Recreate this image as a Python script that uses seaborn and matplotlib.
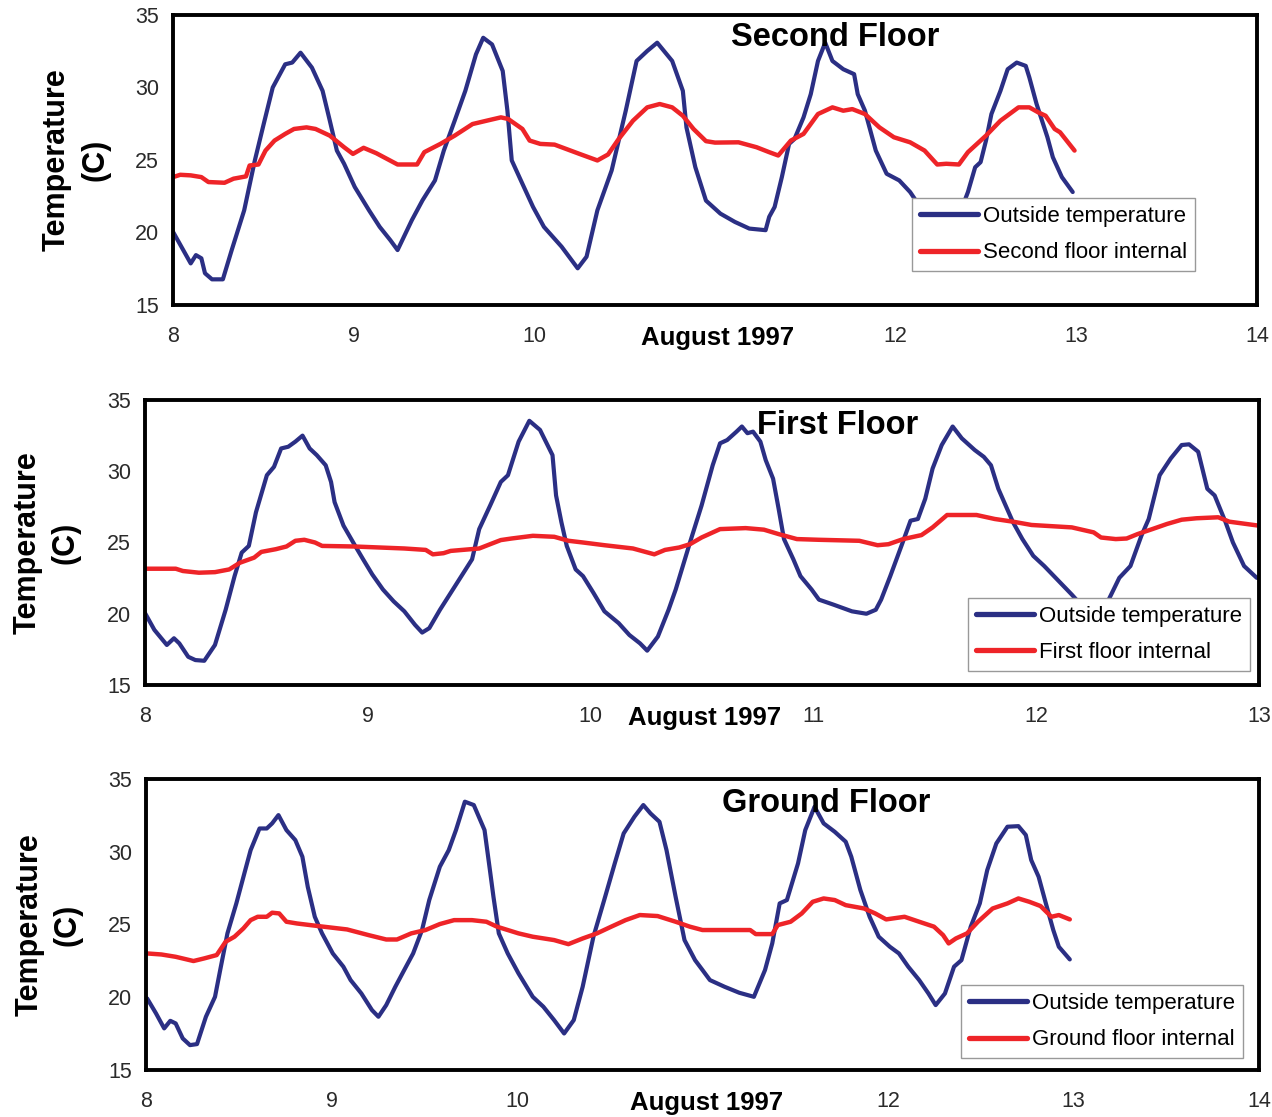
import pandas as pd
import matplotlib.pyplot as plt
import seaborn as sns

# ------------------ data (day of August 1997, deg C) ------------------
# Second floor panel
t_out_2 = [8.0, 8.098, 8.127, 8.157, 8.177, 8.216, 8.276, 8.325, 8.394, 8.453, 8.502, 8.552, 8.621, 8.66,
           8.706, 8.769, 8.828, 8.868, 8.907, 8.947, 9.006, 9.085, 9.144, 9.203, 9.243, 9.322, 9.381, 9.45,
           9.499, 9.559, 9.618, 9.677, 9.717, 9.766, 9.825, 9.851, 9.875, 9.934, 9.993, 10.053, 10.151,
           10.24, 10.289, 10.349, 10.428, 10.506, 10.566, 10.625, 10.68, 10.763, 10.822, 10.842, 10.891,
           10.95, 11.03, 11.11, 11.19, 11.28, 11.30, 11.33, 11.37, 11.41, 11.44, 11.49, 11.53, 11.57, 11.61,
           11.65, 11.71, 11.77, 11.79, 11.83, 11.89, 11.95, 12.02, 12.08, 12.15, 12.22, 12.28, 12.33, 12.40,
           12.44, 12.47, 12.50, 12.53, 12.58, 12.62, 12.67, 12.72, 12.74, 12.78, 12.84, 12.87, 12.92, 12.98]
out_2 = [20.05, 17.87, 18.44, 18.22, 17.19, 16.77, 16.77, 18.79, 21.53, 24.97, 27.48, 30.0, 31.6, 31.72,
         32.4, 31.37, 29.77, 27.71, 25.65, 24.74, 23.14, 21.53, 20.39, 19.47, 18.79, 20.85, 22.22, 23.59,
         25.65, 27.71, 29.77, 32.29, 33.43, 32.97, 31.14, 28.4, 24.97, 23.36, 21.76, 20.39, 19.02,
         17.53, 18.33, 21.53, 24.28, 28.4, 31.83, 32.52, 33.09, 31.83, 29.77, 27.25, 24.51,
         22.2, 21.3, 20.73, 20.27, 20.16, 21.08, 21.76, 23.82, 26.11, 26.45, 27.94, 29.54, 31.83, 33.09,
         31.83, 31.26, 30.92, 29.54, 28.4, 25.65, 24.05, 23.59, 22.79, 21.5, 20.3, 19.6, 20.5, 22.79,
         24.5, 24.85, 26.34, 28.17, 29.77, 31.26, 31.72, 31.49, 30.69, 28.86, 26.57, 25.19, 23.82, 22.79]
t_in_2 = [8.0, 8.04, 8.098, 8.157, 8.196, 8.285, 8.335, 8.404, 8.424, 8.473, 8.512, 8.562, 8.621, 8.67,
          8.739, 8.789, 8.868, 8.947, 8.996, 9.055, 9.125, 9.243, 9.351, 9.391, 9.48, 9.559, 9.658, 9.736,
          9.815, 9.855, 9.934, 9.974, 10.033, 10.112, 10.25, 10.349, 10.408, 10.467, 10.546, 10.625,
          10.694, 10.763, 10.822, 10.881, 10.95, 11.0, 11.13, 11.23, 11.30, 11.35, 11.42, 11.49, 11.57,
          11.65, 11.71, 11.76, 11.83, 11.91, 11.99, 12.08, 12.16, 12.23, 12.28, 12.35, 12.40, 12.50, 12.58,
          12.68, 12.74, 12.79, 12.83, 12.88, 12.91, 12.99]
in_2 = [23.82, 23.98, 23.94, 23.82, 23.48, 23.43, 23.71, 23.87, 24.62, 24.69, 25.65, 26.34, 26.8, 27.14,
        27.25, 27.14, 26.68, 25.88, 25.42, 25.84, 25.47, 24.69, 24.69, 25.54, 26.11, 26.68, 27.48, 27.71,
        27.94, 27.83, 27.14, 26.34, 26.11, 26.06, 25.42, 24.97, 25.38, 26.45, 27.71, 28.63,
        28.86, 28.63, 28.05, 27.14, 26.3, 26.2, 26.22, 25.88, 25.54, 25.31, 26.34, 26.8, 28.17,
        28.63, 28.4, 28.51, 28.17, 27.25, 26.57, 26.22, 25.65, 24.69, 24.74, 24.69, 25.54, 26.68, 27.71,
        28.63, 28.63, 28.28, 28.05, 27.14, 26.91, 25.65]

# First floor panel
t_out_1 = [8.0, 8.042, 8.098, 8.13, 8.154, 8.194, 8.226, 8.266, 8.314, 8.362, 8.402, 8.434, 8.466, 8.498,
           8.547, 8.579, 8.611, 8.643, 8.675, 8.707, 8.739, 8.771, 8.811, 8.835, 8.851, 8.891, 8.939, 8.979,
           9.02, 9.068, 9.116, 9.164, 9.212, 9.244, 9.276, 9.324, 9.372, 9.42, 9.468, 9.50, 9.549, 9.597,
           9.629, 9.677, 9.725, 9.773, 9.829, 9.845, 9.869, 9.893, 9.933, 9.966, 10.013, 10.062, 10.126,
           10.174, 10.222, 10.254, 10.302, 10.35, 10.382, 10.414, 10.446, 10.498, 10.548, 10.581, 10.613,
           10.655, 10.679, 10.704, 10.729, 10.762, 10.786, 10.819, 10.844, 10.868, 10.91, 10.942, 10.992,
           11.025, 11.09, 11.173, 11.238, 11.28, 11.304, 11.345, 11.395, 11.436, 11.469, 11.502, 11.535,
           11.576, 11.625, 11.666, 11.724, 11.765, 11.797, 11.83, 11.863, 11.896, 11.938, 11.987, 12.036,
           12.094, 12.16, 12.22, 12.27, 12.31, 12.34, 12.373, 12.423, 12.472, 12.505, 12.554, 12.604,
           12.653, 12.686, 12.727, 12.768, 12.801, 12.85, 12.883, 12.933, 12.99]
out_1 = [20.05, 18.87, 17.81, 18.28, 17.92, 16.98, 16.75, 16.7, 17.81, 20.28, 22.64, 24.29, 24.76, 27.12,
         29.72, 30.31, 31.6, 31.72, 32.08, 32.5, 31.6, 31.13, 30.42, 29.25, 27.83, 26.18, 24.88, 23.82,
         22.76, 21.7, 20.87, 20.17, 19.22, 18.68, 18.99, 20.28, 21.46, 22.64, 23.82, 25.94, 27.59, 29.25,
         29.72, 32.08, 33.54, 32.9, 31.13, 28.3, 26.42, 24.76, 23.11, 22.64, 21.46, 20.17, 19.34,
         18.51, 17.92, 17.41, 18.4, 20.28, 21.7, 23.35, 25.0, 27.59, 30.42, 31.96, 32.19,
         32.78, 33.14, 32.67, 32.78, 32.08, 30.78, 29.48, 27.36, 25.24, 23.82, 22.64, 21.7,
         20.99, 20.64, 20.17, 20.0, 20.28, 20.99, 22.64, 24.76, 26.53, 26.65, 28.07, 30.19,
         31.84, 33.14, 32.31, 31.49, 31.01, 30.42, 28.77, 27.59, 26.42, 25.24, 24.06, 23.35,
         22.41, 21.34, 20.3, 19.9, 20.5, 21.46, 22.52, 23.35, 25.47, 26.65, 29.72, 30.9,
         31.84, 31.89, 31.37, 28.77, 28.3, 26.42, 25.0, 23.35, 22.52]
t_in_1 = [8.0, 8.138, 8.17, 8.242, 8.314, 8.378, 8.426, 8.49, 8.522, 8.587, 8.635, 8.675, 8.715, 8.763,
          8.795, 8.939, 9.164, 9.26, 9.292, 9.34, 9.372, 9.50, 9.549, 9.597, 9.645, 9.741, 9.837, 9.901,
          9.966, 10.062, 10.19, 10.286, 10.334, 10.398, 10.446, 10.498, 10.581, 10.696, 10.778, 10.844,
          10.926, 11.025, 11.206, 11.288, 11.337, 11.403, 11.485, 11.535, 11.6, 11.732, 11.814, 11.896,
          11.979, 12.16, 12.258, 12.291, 12.357, 12.406, 12.455, 12.521, 12.587, 12.653, 12.719, 12.817,
          12.867, 13.0]
in_1 = [23.16, 23.16, 23.0, 22.88, 22.92, 23.11, 23.58, 23.94, 24.34, 24.53, 24.72, 25.12, 25.19, 25.0,
        24.76, 24.72, 24.58, 24.48, 24.17, 24.25, 24.41, 24.58, 24.88, 25.17, 25.28, 25.47, 25.4, 25.12,
        25.0, 24.81, 24.58, 24.17, 24.48, 24.65, 24.88, 25.35, 25.94, 26.01, 25.9, 25.59,
        25.24, 25.19, 25.12, 24.81, 24.88, 25.24, 25.52, 26.06, 26.93, 26.93, 26.65, 26.46,
        26.23, 26.06, 25.71, 25.35, 25.24, 25.28, 25.59, 25.94, 26.3, 26.6, 26.7, 26.77,
        26.46, 26.18]

# Ground floor panel
t_out_0 = [8.006, 8.054, 8.098, 8.131, 8.16, 8.198, 8.237, 8.275, 8.323, 8.372, 8.40, 8.439, 8.487, 8.535,
           8.564, 8.612, 8.651, 8.68, 8.714, 8.757, 8.805, 8.843, 8.872, 8.91, 8.949, 9.007, 9.064, 9.103,
           9.161, 9.218, 9.253, 9.295, 9.344, 9.392, 9.44, 9.488, 9.527, 9.584, 9.632, 9.671, 9.719, 9.767,
           9.825, 9.854, 9.873, 9.902, 9.95, 10.008, 10.085, 10.142, 10.2, 10.254, 10.306, 10.354, 10.412,
           10.47, 10.527, 10.575, 10.633, 10.681, 10.72, 10.768, 10.806, 10.855, 10.903, 10.96, 11.0, 11.04,
           11.119, 11.198, 11.277, 11.337, 11.376, 11.416, 11.455, 11.515, 11.554, 11.604, 11.653, 11.713,
           11.772, 11.802, 11.851, 11.901, 11.95, 12.01, 12.059, 12.109, 12.168, 12.218, 12.257, 12.307,
           12.356, 12.396, 12.446, 12.495, 12.535, 12.584, 12.644, 12.703, 12.743, 12.772, 12.812, 12.851,
           12.891, 12.921, 12.98]
out_0 = [19.92, 18.89, 17.86, 18.38, 18.2, 17.17, 16.71, 16.78, 18.66, 20.03, 21.87, 24.39, 26.45, 28.74,
         30.11, 31.6, 31.6, 31.95, 32.52, 31.49, 30.8, 29.66, 27.59, 25.53, 24.39, 23.01, 22.1, 21.18,
         20.26, 19.12, 18.66, 19.46, 20.72, 21.87, 23.01, 24.62, 26.68, 28.97, 30.11, 31.49, 33.44, 33.21,
         31.49, 28.74, 26.91, 24.39, 23.01, 21.64, 20.03, 19.35, 18.43, 17.51, 18.43, 20.72, 24.16,
         26.68, 29.2, 31.26, 32.41, 33.21, 32.63, 32.06, 30.11, 26.91, 23.93, 22.55, 21.87, 21.18,
         20.72, 20.31, 20.03, 21.87, 23.7, 26.45, 26.68, 29.2, 31.49, 33.09, 31.95, 31.37,
         30.69, 29.66, 27.37, 25.53, 24.16, 23.47, 23.01, 22.1, 21.18, 20.26, 19.46, 20.26,
         22.1, 22.55, 24.85, 26.45, 28.74, 30.57, 31.72, 31.76, 31.15, 29.43, 28.28, 26.45,
         24.62, 23.47, 22.6]
t_in_0 = [8.006, 8.083, 8.16, 8.256, 8.314, 8.381, 8.429, 8.477, 8.525, 8.564, 8.602, 8.651, 8.68, 8.718,
          8.757, 8.814, 8.93, 9.084, 9.2, 9.295, 9.353, 9.43, 9.507, 9.584, 9.661, 9.757, 9.835, 9.892,
          10.008, 10.085, 10.2, 10.277, 10.354, 10.431, 10.508, 10.585, 10.662, 10.758, 10.855, 10.932,
          11.0, 11.119, 11.257, 11.287, 11.376, 11.406, 11.475, 11.535, 11.594, 11.653, 11.713, 11.772,
          11.871, 11.931, 11.99, 12.089, 12.168, 12.248, 12.297, 12.327, 12.366, 12.426, 12.485, 12.564,
          12.644, 12.703, 12.762, 12.822, 12.881, 12.921, 12.98]
in_0 = [23.01, 22.94, 22.78, 22.49, 22.67, 22.9, 23.81, 24.16, 24.73, 25.3, 25.53, 25.53, 25.81, 25.76,
        25.19, 25.07, 24.89, 24.66, 24.27, 23.97, 23.97, 24.39, 24.62, 25.03, 25.3, 25.3, 25.19, 24.85,
        24.39, 24.16, 23.93, 23.65, 24.04, 24.39, 24.85, 25.3, 25.65, 25.58, 25.19, 24.85,
        24.62, 24.62, 24.62, 24.34, 24.34, 24.96, 25.19, 25.76, 26.56, 26.79, 26.68, 26.33,
        26.1, 25.76, 25.35, 25.53, 25.19, 24.85, 24.27, 23.7, 24.04, 24.39, 25.19, 26.1,
        26.45, 26.79, 26.56, 26.27, 25.53, 25.65, 25.35]

# ------------------ panel layout (figure fractions) ------------------
panels = [
    dict(name='Second Floor', label='Second floor internal', t_out=t_out_2, out=out_2, t_in=t_in_2, inn=in_2,
         rect=[173/1272, 1-305/1117, 1084/1272, 290/1117], xmax=14, hide11=True,
         title_xy=(0.611, 0.924), xlab_x=0.502, leg=(0.943, 0.117), ylab_x=-0.0895),
    dict(name='First Floor', label='First floor internal', t_out=t_out_1, out=out_1, t_in=t_in_1, inn=in_1,
         rect=[145/1272, 1-685/1117, 1114/1272, 285/1117], xmax=13, hide11=False,
         title_xy=(0.622, 0.909), xlab_x=0.502, leg=(0.992, 0.049), ylab_x=-0.0884),
    dict(name='Ground Floor', label='Ground floor internal', t_out=t_out_0, out=out_0, t_in=t_in_0, inn=in_0,
         rect=[146/1272, 1-1070/1117, 1113/1272, 291/1117], xmax=14, hide11=True,
         title_xy=(0.611, 0.9175), xlab_x=0.5035, leg=(0.9856, 0.041), ylab_x=-0.0876),
]

sns.set_style('white')
plt.rcParams['font.family'] = ['Liberation Sans', 'DejaVu Sans']
plt.rcParams['text.color'] = 'black'
plt.rcParams['axes.labelcolor'] = 'black'

BLUE = '#2b2f84'
RED = '#ee2428'

fig = plt.figure(figsize=(12.72, 11.17), dpi=100)

for p in panels:
    ax = fig.add_axes(p['rect'])
    df_out = pd.DataFrame({'day': p['t_out'], 'temp': p['out']})
    df_in = pd.DataFrame({'day': p['t_in'], 'temp': p['inn']})
    sns.lineplot(data=df_out, x='day', y='temp', ax=ax, color=BLUE, linewidth=3.0,
                 label='Outside temperature', estimator=None, sort=False)
    sns.lineplot(data=df_in, x='day', y='temp', ax=ax, color=RED, linewidth=3.2,
                 label=p['label'], estimator=None, sort=False)

    ax.set_xlim(8, p['xmax'])
    ax.set_ylim(15, 35)
    ax.set_yticks([15, 20, 25, 30, 35])
    xt = list(range(8, p['xmax'] + 1))
    ax.set_xticks(xt)
    ax.set_xticklabels(['' if (v == 11 and p['hide11']) else str(v) for v in xt])
    ax.tick_params(axis='both', direction='out', length=4, width=1.2, colors='#222222',
                   labelsize=15.5, labelcolor='#2a2a2a')
    ax.tick_params(axis='x', pad=11)
    ax.tick_params(axis='y', pad=6)

    for s in ax.spines.values():
        s.set_visible(True)
        s.set_color('black')
        s.set_linewidth(2.8)

    ax.set_xlabel('August 1997', fontsize=18.5, fontweight='bold')
    ax.xaxis.set_label_coords(p['xlab_x'], -0.072)
    ax.xaxis.label.set_va('top')
    ax.set_ylabel('Temperature\n(C)', fontsize=22, fontweight='bold', va='center', linespacing=1.35)
    ax.yaxis.set_label_coords(p['ylab_x'], 0.5)

    ax.text(p['title_xy'][0], p['title_xy'][1], p['name'], transform=ax.transAxes,
            ha='center', va='center', fontsize=23.5, fontweight='bold')

    leg = ax.legend(loc='lower right', bbox_to_anchor=p['leg'], fontsize=16, frameon=True,
                    fancybox=False, edgecolor='#999999', framealpha=1, borderaxespad=0,
                    handlelength=2.6, handletextpad=0.25, labelspacing=0.7, borderpad=0.35)
    leg.get_frame().set_linewidth(1.0)
    for h in leg.get_lines():
        h.set_linewidth(3.8)

fig.savefig('out.png', dpi=100)
